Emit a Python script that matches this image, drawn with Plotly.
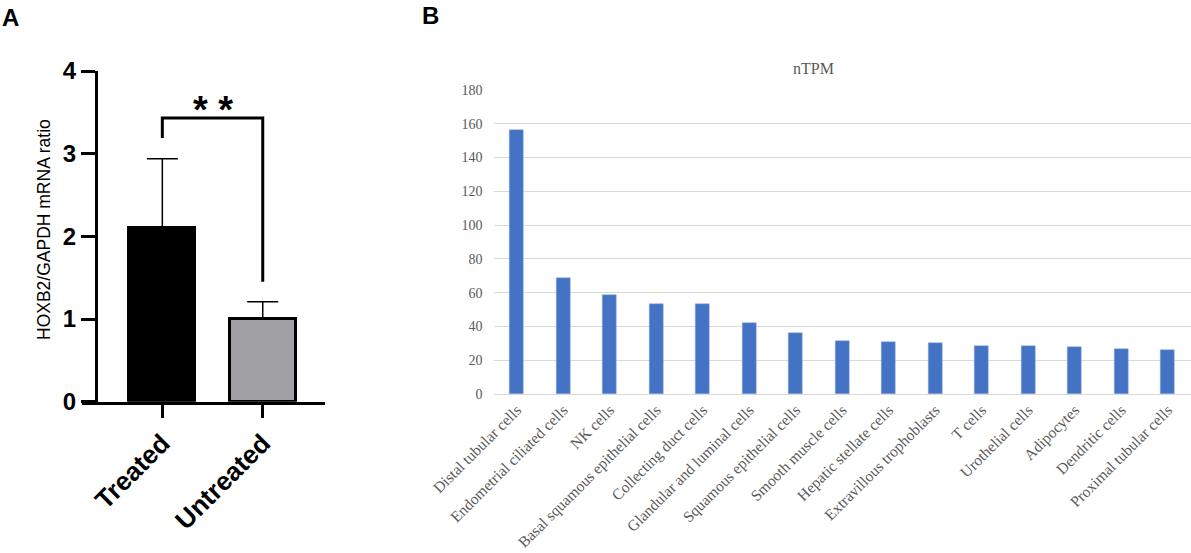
import plotly.graph_objects as go

W, H = 1191, 553

# ---- Panel A data ----
groups = ["Treated", "Untreated"]
ratio_mean = [2.10, 1.0]
ratio_err = [0.84, 0.21]
bar_fill_a = ["#000000", "#a0a0a5"]
bracket_x = [0, 0, 1, 1]
bracket_y = [3.19, 3.43, 3.43, 1.45]
sig_label = "* *"
sig_y = 3.53

# ---- Panel B data ----
cell_types = [
    "Distal tubular cells", "Endometrial ciliated cells", "NK cells",
    "Basal squamous epithelial cells", "Collecting duct cells",
    "Glandular and luminal cells", "Squamous epithelial cells",
    "Smooth muscle cells", "Hepatic stellate cells", "Extravillous trophoblasts",
    "T cells", "Urothelial cells", "Adipocytes", "Dendritic cells",
    "Proximal tubular cells",
]
ntpm = [156.3, 68.9, 58.6, 53.5, 53.1, 42.2, 36.3, 31.4, 31.0, 30.2,
        28.6, 28.2, 27.8, 26.8, 26.2]
y_ticks_b = [0, 20, 40, 60, 80, 100, 120, 140, 160, 180]

def px_x(p):
    return p / W

def px_y(p):
    return 1 - p / H

fig = go.Figure()

# Panel A bars
fig.add_trace(go.Bar(
    x=[0, 1], y=ratio_mean, width=0.66,
    marker=dict(color=bar_fill_a, line=dict(color="black", width=3)),
    error_y=dict(type="data", array=ratio_err, arrayminus=[0, 0], symmetric=False,
                 color="black", thickness=1.5, width=15.5),
    xaxis="x", yaxis="y", showlegend=False,
))
# significance bracket
fig.add_trace(go.Scatter(
    x=bracket_x, y=bracket_y, mode="lines",
    line=dict(color="black", width=3), xaxis="x", yaxis="y",
    showlegend=False, hoverinfo="skip",
))

# Panel B bars
fig.add_trace(go.Bar(
    x=cell_types, y=ntpm, width=0.30,
    marker=dict(color="#4472C4", line=dict(color="#8faadc", width=0.5)),
    xaxis="x2", yaxis="y2", showlegend=False,
))

sans = "Liberation Sans, Arial, sans-serif"
serif = "Liberation Serif, Times New Roman, serif"

fig.update_layout(
    width=W, height=H, autosize=False,
    margin=dict(l=0, r=0, t=0, b=0, pad=0, autoexpand=False),
    paper_bgcolor="white", plot_bgcolor="white",
    bargap=0, showlegend=False,
    xaxis=dict(
        domain=[px_x(82), px_x(325)], range=[-0.8, 1.62],
        tickvals=[0, 1], ticktext=groups, tickangle=-45,
        showline=True, linecolor="black", linewidth=3,
        ticks="outside", ticklen=13, tickwidth=3, tickcolor="black",
        tickfont=dict(family=sans, size=26, color="black", weight="bold"),
        showgrid=False, zeroline=False, anchor="y", automargin=False,
    ),
    yaxis=dict(
        domain=[px_y(401.7), px_y(71)], range=[0, 4], dtick=1,
        anchor="free", position=px_x(96), automargin=False,
        showline=True, linecolor="black", linewidth=3,
        ticks="outside", ticklen=14, tickwidth=3, tickcolor="black",
        tickfont=dict(family=sans, size=24, color="black", weight="bold"),
        showgrid=False, zeroline=False,
    ),
    xaxis2=dict(
        domain=[px_x(493.5), 1.0], anchor="y2", automargin=False,
        tickangle=-45, showline=True, linecolor="#d9d9d9", linewidth=1,
        ticks="", showgrid=False, zeroline=False,
        tickfont=dict(family=serif, size=15.5, color="#595959"),
    ),
    yaxis2=dict(
        domain=[px_y(394), px_y(90)], range=[0, 180], tickvals=y_ticks_b,
        anchor="x2", showline=False, zeroline=False, automargin=False,
        showgrid=True, gridcolor="#d9d9d9", gridwidth=1, ticks="",
        ticklabelstandoff=10,
        tickfont=dict(family=serif, size=14, color="#595959"),
    ),
    annotations=[
        dict(text="A", x=0.0, y=1 - 2 / H, xref="paper", yref="paper",
             xanchor="left", yanchor="top", showarrow=False,
             font=dict(family=sans, size=24, color="black", weight="bold")),
        dict(text="B", x=px_x(420), y=1.0, xref="paper", yref="paper",
             xanchor="left", yanchor="top", showarrow=False,
             font=dict(family=sans, size=24, color="black", weight="bold")),
        dict(text="HOXB2/GAPDH mRNA ratio", x=px_x(44), y=px_y(230),
             xref="paper", yref="paper", textangle=-90, showarrow=False,
             xanchor="center", yanchor="middle",
             font=dict(family=sans, size=17.5, color="black")),
        dict(text=sig_label, x=0.5, y=sig_y, xref="x", yref="y",
             showarrow=False, xanchor="center", yanchor="middle",
             font=dict(family=sans, size=38, color="black", weight="bold")),
        dict(text="nTPM", x=px_x(813), y=px_y(69), xref="paper", yref="paper",
             showarrow=False, xanchor="center", yanchor="middle",
             font=dict(family=serif, size=16, color="#595959")),
    ],
)

fig.write_html("out.html", config={"displayModeBar": False},
               post_script="document.body.style.margin='0px';document.body.style.padding='0px';")
